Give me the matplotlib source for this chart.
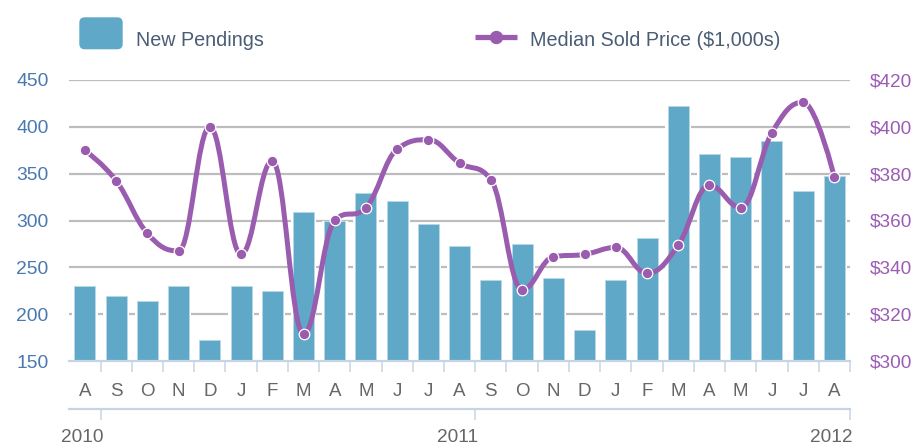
import matplotlib
matplotlib.use('Agg')
import matplotlib.pyplot as plt
import matplotlib.transforms as mtransforms
from matplotlib.path import Path
from matplotlib.patches import PathPatch, FancyBboxPatch
from matplotlib.lines import Line2D

plt.rcParams['font.family'] = ['Liberation Sans', 'DejaVu Sans']

# ---------------- data ----------------
months = ['A', 'S', 'O', 'N', 'D', 'J', 'F', 'M', 'A', 'M', 'J', 'J', 'A',
          'S', 'O', 'N', 'D', 'J', 'F', 'M', 'A', 'M', 'J', 'J', 'A']
new_pendings = [230, 219, 214, 230, 172, 230, 225, 309, 300, 329, 321, 296, 273,
                236, 275, 239, 183, 236, 281, 422, 371, 368, 385, 331, 348]
median_price = [390, 377, 354.5, 347, 400, 345.5, 385.5, 311.5, 360, 365.5, 390.5, 394.5, 384.5,
                377.5, 330.5, 344.5, 345.5, 348.5, 337.5, 349.5, 375, 365.5, 397.5, 410.5, 378.5]
years = ['2010', '2011', '2012']
year_month_index = [1, 13, 25]          # year boundary falls before these month slots
left_ticks = [150, 200, 250, 300, 350, 400, 450]
right_ticks = [300, 320, 340, 360, 380, 400, 420]
series_names = ['New Pendings', 'Median Sold Price ($1,000s)']

# ---------------- style ----------------
BAR = '#5fa8c8'
PURPLE = '#9a5cae'
AXIS = '#c6d5e6'
GRID = '#bdbdbd'
LEFT_TXT = '#4a78b0'
RIGHT_TXT = '#9b5cb4'
MONTH_TXT = '#666666'
LEG_TXT = '#4a5d75'

W, H = 913, 445
fig = plt.figure(figsize=(W / 100, H / 100), dpi=100)
L, R, T, B = 69.3, 850, 80, 361
ax = fig.add_axes([L / W, 1 - B / H, (R - L) / W, (B - T) / H])

x = list(range(len(months)))
ax.set_xlim(-0.5, len(months) - 0.5)
ax.set_ylim(left_ticks[0], left_ticks[-1])

# grid lines
for v in left_ticks[1:]:
    ax.axhline(v, color=GRID, lw=1.6, zorder=1)

# white halos then bars
ax.bar(x, [v - left_ticks[0] for v in new_pendings], bottom=left_ticks[0], width=0.82,
       color='white', zorder=2, linewidth=0)
ax.bar(x, [v - left_ticks[0] for v in new_pendings], bottom=left_ticks[0], width=0.672,
       color=BAR, edgecolor='#b9d7e7', linewidth=0.6, zorder=3)

# spines
for s in ['top', 'left', 'right']:
    ax.spines[s].set_visible(False)
ax.spines['bottom'].set_color(AXIS)
ax.spines['bottom'].set_linewidth(1.6)
ax.spines['bottom'].set_zorder(4)

# x ticks: major (boundaries) unlabeled, minor (centers) labeled
ax.set_xticks([i + 0.5 for i in x])
ax.set_xticklabels([])
ax.tick_params(axis='x', which='major', length=8, width=1.1, color=AXIS, direction='out')
ax.set_xticks(x, minor=True)
ax.set_xticklabels(months, minor=True)
ax.tick_params(axis='x', which='minor', length=0, pad=16, labelsize=13.5, labelcolor=MONTH_TXT)

# left y labels
ax.set_yticks(left_ticks)
ax.set_yticklabels([str(v) for v in left_ticks])
ax.tick_params(axis='y', length=0, pad=15, labelsize=13.9, labelcolor=LEFT_TXT)

# year axis
sec = ax.secondary_xaxis((B - 409.3) / (B - T))
sec.set_xticks([i - 0.5 for i in year_month_index])
sec.set_xticklabels(years)
sec.tick_params(axis='x', length=8, width=1.1, color=AXIS, pad=6, labelsize=13.7,
                labelcolor=MONTH_TXT, direction='out')
sec.spines['bottom'].set_color(AXIS)
sec.spines['bottom'].set_linewidth(1.6)
shift = mtransforms.ScaledTranslation(2.5 / 100, 0, fig.dpi_scale_trans)
for lab in sec.get_xticklabels():
    lab.set_horizontalalignment('right')
    lab.set_transform(lab.get_transform() + shift)

# right axis
ax2 = ax.twinx()
ax2.set_ylim(right_ticks[0], right_ticks[-1])
ax2.set_yticks(right_ticks)
ax2.set_yticklabels(['$%d' % v for v in right_ticks])
ax2.tick_params(axis='y', length=0, pad=14.5, labelsize=13.7, labelcolor=RIGHT_TXT)
for s in ax2.spines.values():
    s.set_visible(False)


def spline_vertices(xs, ys, smoothing=1.5):
    denom = smoothing + 1
    n = len(xs)
    lc = [None] * n
    rc = [None] * n
    for i in range(1, n - 1):
        px, py = xs[i], ys[i]
        lx, ly = xs[i - 1], ys[i - 1]
        nx, ny = xs[i + 1], ys[i + 1]
        lcx = (smoothing * px + lx) / denom
        lcy = (smoothing * py + ly) / denom
        rcx = (smoothing * px + nx) / denom
        rcy = (smoothing * py + ny) / denom
        if rcx != lcx:
            corr = ((rcy - lcy) * (rcx - px)) / (rcx - lcx) + py - rcy
            lcy += corr
            rcy += corr
        if lcy > ly and lcy > py:
            lcy = max(ly, py); rcy = 2 * py - lcy
        elif lcy < ly and lcy < py:
            lcy = min(ly, py); rcy = 2 * py - lcy
        if rcy > ny and rcy > py:
            rcy = max(ny, py); lcy = 2 * py - rcy
        elif rcy < ny and rcy < py:
            rcy = min(ny, py); lcy = 2 * py - rcy
        lc[i] = (lcx, lcy)
        rc[i] = (rcx, rcy)
    verts = [(xs[0], ys[0])]
    codes = [Path.MOVETO]
    for i in range(1, n):
        c1 = rc[i - 1] if rc[i - 1] is not None else (xs[i - 1], ys[i - 1])
        c2 = lc[i] if lc[i] is not None else (xs[i], ys[i])
        verts += [c1, c2, (xs[i], ys[i])]
        codes += [Path.CURVE4] * 3
    return Path(verts, codes)


path = spline_vertices(x, median_price)
ax2.add_patch(PathPatch(path, facecolor='none', edgecolor=PURPLE, lw=3.6,
                        capstyle='round', joinstyle='round', zorder=5))
ax2.plot(x, median_price, 'o', color=PURPLE, markersize=7.6, markeredgecolor='white',
         markeredgewidth=0.9, zorder=6, clip_on=False)

# ---------------- legend ----------------
def fx(px):
    return px / W


def fy(py):
    return 1 - py / H


fig.patches.append(FancyBboxPatch((fx(79.3), fy(49.3)), fx(122.7) - fx(79.3), fy(17.3) - fy(49.3),
                                  boxstyle='round,pad=0,rounding_size=0.006',
                                  transform=fig.transFigure, facecolor=BAR, edgecolor='none',
                                  mutation_aspect=W / H))
fig.text(fx(136), fy(46.5), series_names[0], fontsize=14.2, color=LEG_TXT, va='baseline', ha='left')
fig.lines.append(Line2D([fx(475), fx(517)], [fy(37), fy(37)], transform=fig.transFigure,
                        color=PURPLE, lw=3.8, solid_capstyle='butt'))
fig.lines.append(Line2D([fx(496)], [fy(37)], transform=fig.transFigure, marker='o',
                        color=PURPLE, markersize=8.6, markeredgecolor=PURPLE))
fig.text(fx(530), fy(46.5), series_names[1], fontsize=14.2, color=LEG_TXT, va='baseline', ha='left')

fig.savefig('out.png', dpi=100)
